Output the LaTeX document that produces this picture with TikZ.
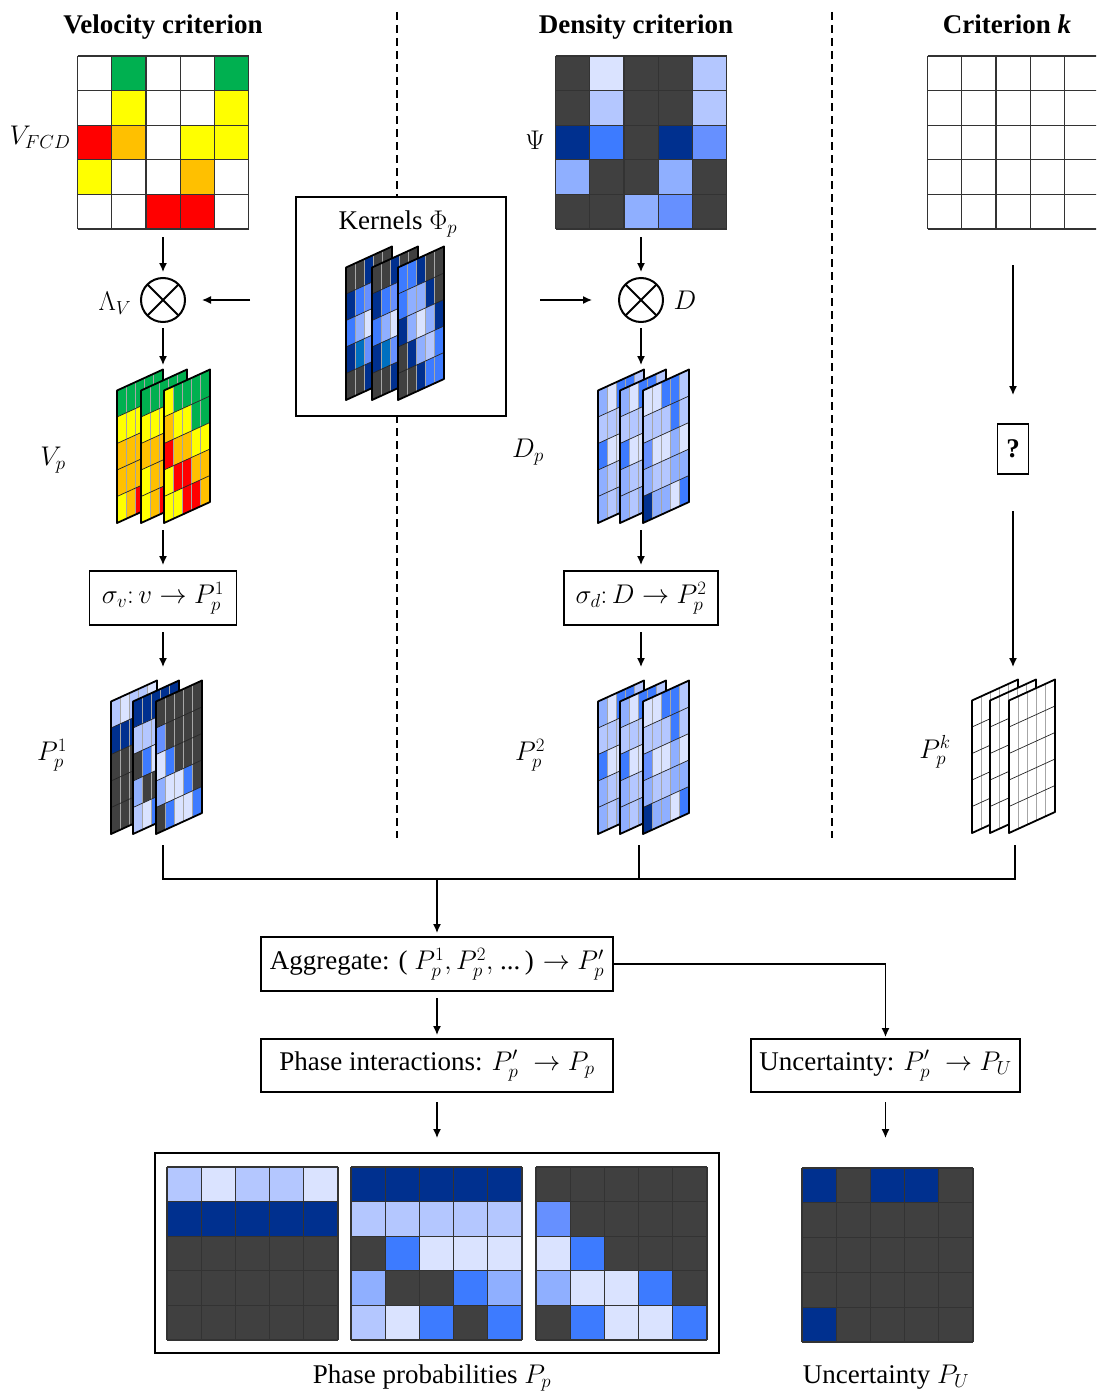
\RequirePackage{fix-cm}
\documentclass[tikz,border=0pt]{standalone}
\usepackage{fontspec}
\setmainfont{Liberation Serif}
\usetikzlibrary{arrows.meta}
\definecolor{cG}{HTML}{00B050}
\definecolor{cY}{HTML}{FFFF00}
\definecolor{cO}{HTML}{FFC000}
\definecolor{cR}{HTML}{FF0000}
\definecolor{cW}{HTML}{FFFFFF}
\definecolor{dk}{HTML}{404040}
\definecolor{ba}{HTML}{DAE3FF}
\definecolor{bb}{HTML}{B4C7FF}
\definecolor{bc}{HTML}{8FAFFF}
\definecolor{bd}{HTML}{6690FF}
\definecolor{be}{HTML}{3D7BFF}
\definecolor{bf}{HTML}{00308F}
\definecolor{bt}{HTML}{0070C0}
\newcommand{\myfs}{\fontsize{27}{32}\selectfont}
\def\Lvg{cW,cG,cW,cW,cG,cW,cY,cW,cW,cY,cR,cO,cW,cY,cY,cY,cW,cW,cO,cW,cW,cW,cR,cR,cW}
\def\Ldg{dk,ba,dk,dk,bb,dk,bb,dk,dk,bb,bf,be,dk,bf,bd,bc,dk,dk,bc,dk,dk,dk,bc,bd,dk}
\def\Lwh{cW,cW,cW,cW,cW,cW,cW,cW,cW,cW,cW,cW,cW,cW,cW,cW,cW,cW,cW,cW,cW,cW,cW,cW,cW}
\def\Lga{bb,ba,bb,bb,ba,bf,bf,bf,bf,bf,dk,dk,dk,dk,dk,dk,dk,dk,dk,dk,dk,dk,dk,dk,dk}
\def\Lgb{bf,bf,bf,bf,bf,bb,bb,bb,bb,bb,dk,be,ba,ba,ba,bc,dk,dk,be,bc,bb,ba,be,dk,be}
\def\Lgc{dk,dk,dk,dk,dk,bd,dk,dk,dk,dk,ba,be,dk,dk,dk,bc,ba,ba,be,dk,dk,be,ba,ba,be}
\def\Lug{bf,dk,bf,bf,dk,dk,dk,dk,dk,dk,dk,dk,dk,dk,dk,dk,dk,dk,dk,dk,bf,dk,dk,dk,dk}
\def\Lka{dk,dk,bf,dk,dk,bf,be,bd,bf,dk,be,bc,ba,bc,bf,bf,bt,bd,bc,be,dk,dk,bf,be,be}
\def\Lkc{be,be,bf,dk,dk,be,bc,bc,bf,dk,bf,bc,ba,bc,bf,dk,bf,bc,bb,be,dk,dk,bf,be,be}
\def\Lva{cG,cG,cG,cG,cG,cY,cY,cY,cY,cY,cO,cO,cO,cO,cO,cO,cO,cO,cO,cO,cY,cO,cR,cR,cR}
\def\Lvb{cG,cG,cG,cG,cG,cY,cY,cY,cY,cY,cO,cO,cO,cO,cO,cY,cO,cO,cO,cO,cY,cO,cR,cR,cR}
\def\Lvc{cY,cG,cG,cG,cG,cO,cY,cY,cG,cG,cR,cO,cO,cY,cY,cY,cR,cR,cO,cO,cY,cY,cR,cR,cO}
\def\Lda{bc,ba,be,be,bb,bb,bb,bb,be,bb,be,ba,ba,bc,ba,bc,bb,bb,bc,bc,bc,bb,bc,ba,be}
\def\Ldc{ba,ba,be,be,bb,bb,bb,bb,be,bb,bd,ba,ba,bc,ba,bc,bb,bb,bc,bc,bf,bc,bc,ba,be}
% flat grid: x0 y0 cellw cellh colours
\newcommand{\flatgrid}[5]{%
  \foreach \cellc [count=\ii from 0] in #5 {%
    \pgfmathtruncatemacro\rr{\ii/5}%
    \pgfmathtruncatemacro\kk{\ii-5*\rr}%
    \path[fill=\cellc] (#1+\kk*#3,#2+\rr*#4) rectangle ++(#3,#4);
  }%
  \foreach \kk in {0,...,5} {%
    \draw[gridln] (#1+\kk*#3,#2) -- ++(0,5*#4);
    \draw[gridln] (#1,#2+\kk*#4) -- ++(5*#3,0);
  }%
}
% skewed layer: x0 ybottom colours
\newcommand{\slayer}[3]{%
  \begin{scope}[shift={(#1,#2)}, x={(9.2pt,4.2pt)}, y={(0pt,26.5pt)}]
    \foreach \cellc [count=\ii from 0] in #3 {%
      \pgfmathtruncatemacro\rr{\ii/5}%
      \pgfmathtruncatemacro\kk{\ii-5*\rr}%
      \pgfmathtruncatemacro\vv{4-\rr}%
      \fill[fill=\cellc] (\kk,\vv) -- ++(1,0) -- ++(0,1) -- ++(-1,0) -- cycle;
    }%
    \foreach \kk in {1,...,4} {\draw[gray!70, line width=0.7] (\kk,0) -- (\kk,5);}
    \foreach \kk in {1,...,4} {\draw[black!85, line width=0.7] (0,\kk) -- (5,\kk);}
    \draw[black, line width=1.8, line join=round] (0,0) -- (5,0) -- (5,5) -- (0,5) -- cycle;
  \end{scope}}
\begin{document}
\begin{tikzpicture}[x=1pt, y=-1pt,
  every node/.style={font=\myfs},
  gridln/.style={draw=black!80, line width=1.2},
  arr/.style={-{Latex[length=9pt,width=8pt]}, line width=1.4},
  ln/.style={line width=1.4},
  box/.style={draw, line width=1.2, fill=white, inner sep=0, outer sep=0},
  ovl/.style={inner sep=0, outer sep=0},
  dashln/.style={dash pattern=on 8pt off 5pt, line width=1.8},
  otimesn/.style={circle, draw, line width=2, minimum size=44pt, inner sep=0, outer sep=0}]
\useasboundingbox (0,0) rectangle (1096,1397);
\clip (0,0) rectangle (1096,1397);
\fill[white] (0,0) rectangle (1096,1397);

% dashed separators
\coordinate (da1) at (397,12); \coordinate (da2) at (397,838);
\coordinate (db1) at (832,12); \coordinate (db2) at (832,838);
\draw[dashln] (da1) -- (da2);
\draw[dashln] (db1) -- (db2);

% titles
\node[anchor=base, font=\myfs\bfseries] (t1) at (163,34) {Velocity criterion};
\node[anchor=base, font=\myfs\bfseries] (t2) at (636,34) {Density criterion};
\node[anchor=base, font=\myfs\bfseries] (t3) at (1007,34) {Criterion \textit{k}};

% top grids
\flatgrid{77.5}{56}{34.2}{34.6}{\Lvg}
\flatgrid{555.5}{56}{34.2}{34.6}{\Ldg}
\flatgrid{927.5}{56}{34.2}{34.6}{\Lwh}
\node[ovl, minimum width=171pt, minimum height=173pt] (vgrid) at (163,142.5) {};
\node[ovl, minimum width=171pt, minimum height=173pt] (dgrid) at (641,142.5) {};
\node[ovl, minimum width=171pt, minimum height=173pt] (kgrid) at (1013,142.5) {};
\node (lvfcd) at (40,137) {$V_{FCD}$};
\node (lpsi) at (535,140) {$\Psi$};

% kernel box
\node[draw, line width=2, fill=white, minimum width=210pt, minimum height=219pt, inner sep=0, outer sep=0] (kern) at (401,306.5) {};
\node (kt) at (398,224) {Kernels $\Phi_p$};
\slayer{346}{400}{\Lka}
\slayer{372}{400}{\Lka}
\slayer{398}{400}{\Lkc}

% otimes
\node[otimesn] (ot1) at (163,300) {};
\draw[line width=2] (ot1.north west) -- (ot1.south east) (ot1.north east) -- (ot1.south west);
\node[otimesn] (ot2) at (641,300) {};
\draw[line width=2] (ot2.north west) -- (ot2.south east) (ot2.north east) -- (ot2.south west);
\node (llam) at (115,303) {$\Lambda_V$};
\node (ld) at (685,300) {$D$};

% stacks
\slayer{117}{523}{\Lva}
\slayer{141}{523}{\Lvb}
\slayer{164}{523}{\Lvc}
\node[ovl, minimum width=94pt, minimum height=154pt] (vp) at (164,446) {};
\slayer{598}{523}{\Lda}
\slayer{620}{523}{\Lda}
\slayer{643}{523}{\Ldc}
\node[ovl, minimum width=91pt, minimum height=154pt] (dp) at (643.5,446) {};
\slayer{111}{834}{\Lga}
\slayer{133}{834}{\Lgb}
\slayer{156}{834}{\Lgc}
\node[ovl, minimum width=92pt, minimum height=154pt] (p1) at (157,757) {};
\slayer{598}{834}{\Lda}
\slayer{620}{834}{\Lda}
\slayer{643}{834}{\Ldc}
\node[ovl, minimum width=91pt, minimum height=154pt] (p2) at (643.5,757) {};
\slayer{972}{833}{\Lwh}
\slayer{990}{833}{\Lwh}
\slayer{1009}{833}{\Lwh}
\node[ovl, minimum width=83pt, minimum height=153pt] (pk) at (1013.5,756.5) {};

\node (lvp) at (53,460) {$V_p$};
\node (ldp) at (528,452) {$D_p$};
\node (lp1) at (52,755) {$P_p^1$};
\node (lp2) at (530,755) {$P_p^2$};
\node (lpk) at (935,752) {$P_p^k$};

% sigma boxes and ? box
\node[box, minimum width=147pt, minimum height=54pt] (sv) at (163,598) {$\sigma_v\colon v \rightarrow P_p^1$};
\node[box, minimum width=154pt, minimum height=54pt] (sd) at (641,598) {$\sigma_d\colon D \rightarrow P_p^2$};
\node[box, minimum width=31pt, minimum height=50pt, font=\myfs\bfseries] (qb) at (1013,449) {?};

% arrows velocity column
\draw[arr, shorten <=8pt, shorten >=6pt] (vgrid.south) -- (ot1.north);
\draw[arr, shorten <=6pt, shorten >=4pt] (ot1.south) -- (ot1.south |- vp.north);
\draw[arr, shorten <=7pt, shorten >=6pt] (sv.north |- vp.south) -- (sv.north);
\draw[arr, shorten <=7pt, shorten >=13pt] (sv.south) -- (sv.south |- p1.north);
% arrows density column
\draw[arr, shorten <=8pt, shorten >=6pt] (dgrid.south) -- (ot2.north);
\draw[arr, shorten <=6pt, shorten >=4pt] (ot2.south) -- (ot2.south |- dp.north);
\draw[arr, shorten <=7pt, shorten >=6pt] (sd.north |- dp.south) -- (sd.north);
\draw[arr, shorten <=7pt, shorten >=13pt] (sd.south) -- (sd.south |- p2.north);
% kernel arrows
\draw[arr, shorten <=46pt, shorten >=17pt] (ot1 -| kern.west) -- (ot1.east);
\draw[arr, shorten <=34pt, shorten >=27pt] (ot2 -| kern.east) -- (ot2.west);
% criterion k arrows
\draw[arr, shorten <=36pt, shorten >=29pt] (kgrid.south) -- (qb.north);
\draw[arr, shorten <=37pt, shorten >=13pt] (qb.south) -- (qb.south |- pk.north);

% collector
\coordinate (j1) at (163,879);
\coordinate (j2) at (639,879);
\coordinate (j3) at (1015,879);
\coordinate (jm) at (437,879);
\draw[ln, shorten <=11pt, shorten >=12pt] (p1.south -| j1) -- (j1) -- (j3) -- (pk.south -| j3);
\draw[ln, shorten <=11pt] (p2.south -| j2) -- (j2);

% lower boxes
\node[box, minimum width=352pt, minimum height=54pt] (agg) at (437,964) {Aggregate: ( $P_p^1,P_p^2,$ ...\,) $\rightarrow P_p'$};
\node[box, minimum width=352pt, minimum height=53pt] (phase) at (437,1065.5) {Phase interactions: $P_p' \;\rightarrow P_p$};
\node[box, minimum width=269pt, minimum height=53pt] (unc) at (885.5,1065.5) {Uncertainty: $P_p' \;\rightarrow P_U$};
\draw[arr, shorten >=4pt] (jm) -- (jm |- agg.north);
\draw[arr, shorten >=2pt] (agg.east) -| (unc.north);
\draw[arr, shorten <=7pt, shorten >=4pt] (agg.south) -- (phase.north);

% bottom grids
\node[draw, line width=2.5, minimum width=564pt, minimum height=200pt, inner sep=0, outer sep=0] (bigbox) at (437,1253) {};
\flatgrid{167}{1167}{34.2}{34.6}{\Lga}
\flatgrid{351}{1167}{34.2}{34.6}{\Lgb}
\flatgrid{536}{1167}{34.2}{34.6}{\Lgc}
\flatgrid{802}{1168}{34.2}{34.8}{\Lug}
\node[ovl, minimum width=171pt, minimum height=174pt] (ugrid) at (887.5,1255) {};
\draw[arr, shorten <=10pt, shorten >=15pt] (phase.south) -- (bigbox.north);
\draw[arr, shorten <=10pt, shorten >=30pt] (unc.south) -- (unc.south |- ugrid.north);

\node (cap1) at (432,1378) {Phase probabilities $P_p$};
\node (cap2) at (886,1377) {Uncertainty $P_U$};
\end{tikzpicture}
\end{document}
